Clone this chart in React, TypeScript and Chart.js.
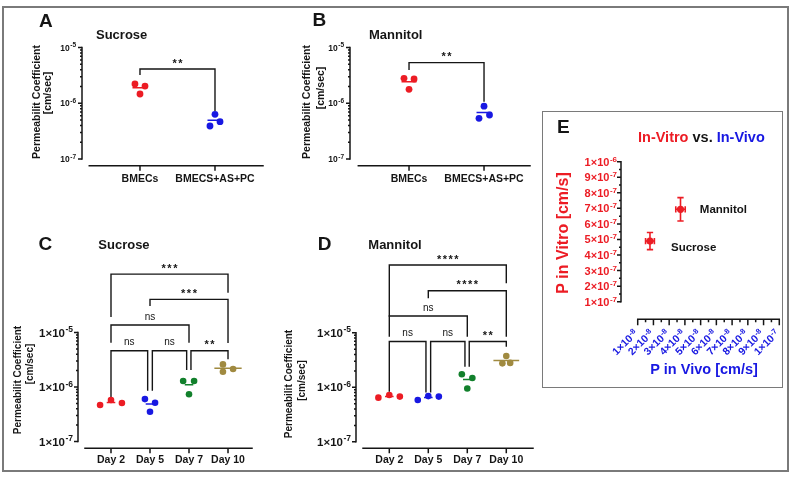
import { useEffect, useRef } from "react";
import { Chart, registerables } from "chart.js";

Chart.register(...registerables);

const FONT = 'Arial, "Liberation Sans", Helvetica, sans-serif';
const W = 793;
const H = 481;

// ---------------- Panels A & B ----------------
const abCategories = ["BMECs", "BMECS+AS+PC"];
const sucroseBMECs = [2.22e-6, 2.04e-6, 1.47e-6];
const sucroseBMECsASPC = [6.36e-7, 3.92e-7, 4.68e-7];
const mannitolBMECs = [2.8e-6, 2.73e-6, 1.78e-6];
const mannitolBMECsASPC = [8.9e-7, 5.38e-7, 6.17e-7];
const sucroseABJitter = [[-0.067, 0.067, 0], [0, -0.067, 0.067]];
const mannitolABJitter = [[-0.067, 0.067, 0], [0, -0.067, 0.073]];
const abTickValues = [1e-7, 1e-6, 1e-5];
const abTickLabels = ["10⁻⁷", "10⁻⁶", "10⁻⁵"];
const sucroseABBrackets = [{ from: 0, to: 1, top: 4.12e-6, leftEnd: 3.21e-6, rightEnd: 7.3e-7, label: "**" }];
const mannitolABBrackets = [{ from: 0, to: 1, top: 5.35e-6, leftEnd: 3.96e-6, rightEnd: 1.07e-6, label: "**" }];

// ---------------- Panels C & D ----------------
const dayCategories = ["Day 2", "Day 5", "Day 7", "Day 10"];
const sucroseDay2 = [4.68e-7, 5.77e-7, 5.1e-7];
const sucroseDay5 = [6.0e-7, 5.15e-7, 3.52e-7];
const sucroseDay7 = [1.29e-6, 1.29e-6, 7.34e-7];
const sucroseDay10 = [2.6e-6, 2.14e-6, 1.91e-6];
const mannitolDay2 = [6.45e-7, 7.2e-7, 6.75e-7];
const mannitolDay5 = [5.85e-7, 6.9e-7, 6.75e-7];
const mannitolDay7 = [1.74e-6, 1.48e-6, 9.5e-7];
const mannitolDay10 = [3.75e-6, 2.75e-6, 2.8e-6];
const sucroseDayJitter = [[-0.28, 0, 0.28], [-0.13, 0.13, 0], [-0.15, 0.13, 0], [-0.13, 0.13, -0.13]];
const mannitolDayJitter = [[-0.28, 0, 0.27], [-0.27, 0, 0.27], [-0.14, 0.13, 0], [0, -0.1, 0.1]];
const cdTickValues = [1e-7, 1e-6, 1e-5];
const cdTickLabels = ["1×10⁻⁷", "1×10⁻⁶", "1×10⁻⁵"];
const sucroseDayBrackets = [
  { from: 0, to: 0.94, top: 4.64e-6, leftEnd: 6.3e-7, rightEnd: 8.5e-7, label: "ns" },
  { from: 1.06, to: 1.94, top: 4.64e-6, leftEnd: 8.5e-7, rightEnd: 2.05e-6, label: "ns" },
  { from: 2.05, to: 3, top: 4.64e-6, leftEnd: 2.05e-6, rightEnd: 3.22e-6, label: "**" },
  { from: 0, to: 2, top: 1.37e-5, leftEnd: 6.5e-6, rightEnd: 6.5e-6, label: "ns" },
  { from: 1, to: 3, top: 4.06e-5, leftEnd: 3.06e-5, rightEnd: 6.4e-6, label: "***" },
  { from: 0, to: 3, top: 1.18e-4, leftEnd: 1.92e-5, rightEnd: 5.37e-5, label: "***" },
];
const mannitolDayBrackets = [
  { from: 0, to: 0.94, top: 6.9e-6, leftEnd: 8.3e-7, rightEnd: 8.0e-7, label: "ns" },
  { from: 1.06, to: 1.94, top: 6.9e-6, leftEnd: 8.0e-7, rightEnd: 2.39e-6, label: "ns" },
  { from: 2.05, to: 3, top: 6.9e-6, leftEnd: 2.39e-6, rightEnd: 5.56e-6, label: "**" },
  { from: 0, to: 2, top: 2.03e-5, leftEnd: 8.5e-6, rightEnd: 8.5e-6, label: "ns" },
  { from: 1, to: 3, top: 5.9e-5, leftEnd: 4.3e-5, rightEnd: 8.5e-6, label: "****" },
  { from: 0, to: 3, top: 1.75e-4, leftEnd: 1.97e-5, rightEnd: 8.1e-5, label: "****" },
];

// ---------------- Panel E ----------------
const eCompounds = ["Sucrose", "Mannitol"];
const pInVivo = [1.78e-8, 3.72e-8];
const pInVivoErr = [0.28e-8, 0.3e-8];
const pInVitro = [4.9e-7, 6.94e-7];
const pInVitroErr = [0.55e-7, 0.75e-7];
const eYTickValues = [1e-7, 2e-7, 3e-7, 4e-7, 5e-7, 6e-7, 7e-7, 8e-7, 9e-7, 1e-6];
const eYTickLabels = ["1×10⁻⁷", "2×10⁻⁷", "3×10⁻⁷", "4×10⁻⁷", "5×10⁻⁷", "6×10⁻⁷", "7×10⁻⁷", "8×10⁻⁷", "9×10⁻⁷", "1×10⁻⁶"];
const eXTickValues = [1e-8, 2e-8, 3e-8, 4e-8, 5e-8, 6e-8, 7e-8, 8e-8, 9e-8, 1e-7];
const eXTickLabels = ["1×10⁻⁸", "2×10⁻⁸", "3×10⁻⁸", "4×10⁻⁸", "5×10⁻⁸", "6×10⁻⁸", "7×10⁻⁸", "8×10⁻⁸", "9×10⁻⁸", "1×10⁻⁷"];

// ---------------- colours ----------------
const RED = "rgb(236,28,36)";
const BLUE = "rgb(24,24,226)";
const GREEN = "rgb(18,128,44)";
const OLIVE = "rgb(160,138,64)";
const INK = "#151515";

type Bracket = { from: number; to: number; top: number; leftEnd: number; rightEnd: number; label: string };
type TextItem = {
  text?: string;
  parts?: { text: string; color: string }[];
  x: number;
  y: number;
  size: number;
  weight?: string;
  color?: string;
  align?: CanvasTextAlign;
  rotate?: number;
};

const SUP: Record<string, string> = {
  "⁻": "-", "⁰": "0", "¹": "1", "²": "2", "³": "3", "⁴": "4",
  "⁵": "5", "⁶": "6", "⁷": "7", "⁸": "8", "⁹": "9",
};
function splitSup(s: string): [string, string] {
  let i = 0;
  while (i < s.length && !(s[i] in SUP)) i++;
  return [s.slice(0, i), s.slice(i).split("").map((c) => SUP[c] || c).join("")];
}

function mean(a: number[]) {
  return a.reduce((s, v) => s + v, 0) / a.length;
}
function logMinors(majors: number[]) {
  const out: number[] = [];
  for (let i = 0; i < majors.length - 1; i++) for (let k = 2; k <= 9; k++) out.push(majors[i] * k);
  return out;
}
function midMinors(majors: number[]) {
  const out: number[] = [];
  for (let i = 0; i < majors.length - 1; i++) out.push((majors[i] + majors[i + 1]) / 2);
  return out;
}

function drawText(ctx: CanvasRenderingContext2D, t: TextItem) {
  ctx.save();
  ctx.translate(t.x, t.y);
  if (t.rotate) ctx.rotate(t.rotate);
  ctx.font = `${t.weight || "bold"} ${t.size}px ${FONT}`;
  ctx.textBaseline = "middle";
  if (t.parts) {
    ctx.textAlign = "left";
    let x = 0;
    for (const p of t.parts) {
      ctx.fillStyle = p.color;
      ctx.fillText(p.text, x, 0);
      x += ctx.measureText(p.text).width;
    }
  } else {
    ctx.textAlign = t.align || "center";
    ctx.fillStyle = t.color || INK;
    ctx.fillText(t.text || "", 0, 0);
  }
  ctx.restore();
}

// Draws "base" + raised exponent, right-aligned at (0,0) with the base vertically centred.
function drawSupLabel(ctx: CanvasRenderingContext2D, label: string, base: number, exp: number, raise: number, color: string) {
  const [b, e] = splitSup(label);
  ctx.fillStyle = color;
  ctx.textAlign = "left";
  ctx.textBaseline = "alphabetic";
  ctx.font = `bold ${exp}px ${FONT}`;
  const we = ctx.measureText(e).width;
  ctx.font = `bold ${base}px ${FONT}`;
  const wb = ctx.measureText(b).width;
  const baseY = base * 0.36;
  ctx.fillText(b, -we - wb - 0.5, baseY);
  ctx.font = `bold ${exp}px ${FONT}`;
  ctx.fillText(e, -we, baseY - raise);
}

const decoPlugin = {
  id: "deco",
  afterDraw(chart: any, _args: any, o: any) {
    const ctx: CanvasRenderingContext2D = chart.ctx;
    const area = chart.chartArea;
    const xs = chart.scales.x;
    const ys = chart.scales.y;
    ctx.save();
    ctx.strokeStyle = INK;
    ctx.lineWidth = 1.5;
    // y axis
    const ya = o.yAxis;
    const x0 = area.left;
    ctx.lineCap = "square";
    ctx.beginPath();
    ctx.moveTo(x0, ys.getPixelForValue(ya.from));
    ctx.lineTo(x0, ys.getPixelForValue(ya.to));
    ctx.stroke();
    ctx.lineCap = "butt";
    ctx.beginPath();
    for (const v of ya.majors) {
      const p = ys.getPixelForValue(v);
      ctx.moveTo(x0, p);
      ctx.lineTo(x0 - ya.majorLen, p);
    }
    for (const v of ya.minors) {
      const p = ys.getPixelForValue(v);
      ctx.moveTo(x0, p);
      ctx.lineTo(x0 - ya.minorLen, p);
    }
    ctx.stroke();
    // y tick labels with real superscripts
    const yl = ya.labels;
    ya.majors.forEach((v: number, i: number) => {
      ctx.save();
      ctx.translate(x0 - yl.pad, ys.getPixelForValue(v));
      drawSupLabel(ctx, yl.text[i], yl.base, yl.exp, yl.raise, yl.color);
      ctx.restore();
    });
    // x axis
    const xa = o.xAxis;
    const y0 = area.bottom;
    ctx.lineCap = "square";
    ctx.beginPath();
    ctx.moveTo(xs.getPixelForValue(xa.from), y0);
    ctx.lineTo(xs.getPixelForValue(xa.to), y0);
    ctx.stroke();
    ctx.lineCap = "butt";
    ctx.beginPath();
    for (const v of xa.majors) {
      const p = xs.getPixelForValue(v);
      ctx.moveTo(p, y0);
      ctx.lineTo(p, y0 + xa.majorLen);
    }
    for (const v of xa.minors || []) {
      const p = xs.getPixelForValue(v);
      ctx.moveTo(p, y0);
      ctx.lineTo(p, y0 + xa.minorLen);
    }
    ctx.stroke();
    if (xa.labels) {
      const xl = xa.labels;
      xa.majors.forEach((v: number, i: number) => {
        ctx.save();
        ctx.translate(xs.getPixelForValue(v) + xl.dx, y0 + xl.dy);
        ctx.rotate(-Math.PI / 4);
        drawSupLabel(ctx, xl.text[i], xl.base, xl.exp, xl.raise, xl.color);
        ctx.restore();
      });
    }
    // bracket labels
    for (const b of (o.brackets || []) as Bracket[]) {
      const cx = (xs.getPixelForValue(b.from) + xs.getPixelForValue(b.to)) / 2;
      const cy = ys.getPixelForValue(b.top);
      const isStar = b.label.indexOf("*") >= 0;
      ctx.save();
      ctx.fillStyle = INK;
      ctx.textAlign = "center";
      ctx.textBaseline = "middle";
      if (isStar) {
        ctx.font = `bold 11px ${FONT}`;
        (ctx as any).letterSpacing = "1.5px";
        ctx.fillText(b.label, cx + 0.75, cy - 5.5);
      } else {
        ctx.font = `normal 10px ${FONT}`;
        ctx.fillText(b.label, cx, cy - 8);
      }
      ctx.restore();
    }
    // point labels
    for (const pl of o.pointLabels || []) {
      drawText(ctx, {
        text: pl.text,
        x: xs.getPixelForValue(pl.x) + pl.dx,
        y: ys.getPixelForValue(pl.y) + pl.dy,
        size: pl.size,
        align: "left",
      });
    }
    // free texts
    for (const t of o.texts || []) drawText(ctx, t);
    ctx.restore();
  },
};

type LogPanel = {
  categories: string[];
  groups: number[][];
  jitter: number[][];
  colors: string[];
  meanHalf: number[];
  brackets: Bracket[];
  tickValues: number[];
  tickLabels: string[];
  area: { left: number; top: number; right: number; bottom: number };
  yMin: number;
  yMax: number;
  xMin: number;
  xMax: number;
  xAxisFrom: number;
  yLabelStyle: { base: number; exp: number; raise: number; pad: number };
  xTickSize: number;
  xTickPad: number;
  pointRadius: number;
  texts: TextItem[];
};

function makeLogPanel(p: LogPanel) {
  const yWidth = 70;
  const xHeight = 30;
  const datasets: any[] = [];
  p.groups.forEach((vals, gi) =>
    datasets.push({
      data: vals.map((v, k) => ({ x: gi + p.jitter[gi][k], y: v })),
      pointRadius: p.pointRadius,
      pointBackgroundColor: p.colors[gi],
      pointBorderWidth: 0,
      showLine: false,
    })
  );
  p.groups.forEach((vals, gi) => {
    const m = mean(vals);
    datasets.push({
      data: [
        { x: gi - p.meanHalf[gi], y: m },
        { x: gi + p.meanHalf[gi], y: m },
      ],
      showLine: true,
      borderColor: p.colors[gi],
      borderWidth: 1.5,
      pointRadius: 0,
    });
  });
  p.brackets.forEach((b) =>
    datasets.push({
      data: [
        { x: b.from, y: b.leftEnd },
        { x: b.from, y: b.top },
        { x: b.to, y: b.top },
        { x: b.to, y: b.rightEnd },
      ],
      showLine: true,
      borderColor: INK,
      borderWidth: 1.4,
      borderJoinStyle: "miter",
      pointRadius: 0,
    })
  );
  return {
    type: "scatter",
    data: { datasets },
    options: {
      responsive: false,
      animation: false,
      events: [],
      layout: {
        padding: {
          left: p.area.left - yWidth,
          top: p.area.top,
          right: W - p.area.right,
          bottom: H - p.area.bottom - xHeight,
        },
      },
      plugins: {
        legend: { display: false },
        tooltip: { enabled: false },
        deco: {
          yAxis: {
            from: p.tickValues[0],
            to: p.tickValues[p.tickValues.length - 1],
            majors: p.tickValues,
            minors: logMinors(p.tickValues),
            majorLen: 4,
            minorLen: 2,
            labels: { text: p.tickLabels, color: INK, ...p.yLabelStyle },
          },
          xAxis: {
            from: p.xAxisFrom,
            to: p.xMax,
            majors: p.categories.map((_, i) => i),
            majorLen: 5,
          },
          brackets: p.brackets,
          texts: p.texts,
        },
      },
      scales: {
        x: {
          type: "linear",
          min: p.xMin,
          max: p.xMax,
          afterBuildTicks: (s: any) => {
            s.ticks = p.categories.map((_, i) => ({ value: i }));
          },
          afterFit: (s: any) => {
            s.height = xHeight;
          },
          grid: { display: false, drawTicks: false },
          border: { display: false },
          ticks: {
            autoSkip: false,
            maxRotation: 0,
            minRotation: 0,
            padding: p.xTickPad,
            color: INK,
            font: { family: FONT, size: p.xTickSize, weight: "bold" },
            callback: (_v: any, i: number) => p.categories[i],
          },
        },
        y: {
          type: "logarithmic",
          min: p.yMin,
          max: p.yMax,
          afterBuildTicks: (s: any) => {
            s.ticks = p.tickValues.map((v) => ({ value: v }));
          },
          afterFit: (s: any) => {
            s.width = yWidth;
          },
          grid: { display: false, drawTicks: false },
          border: { display: false },
          ticks: { display: false },
        },
      },
    },
    plugins: [decoPlugin],
  };
}

function seg(a: [number, number], b: [number, number]) {
  return {
    data: [
      { x: a[0], y: a[1] },
      { x: b[0], y: b[1] },
    ],
    showLine: true,
    borderColor: RED,
    borderWidth: 1.6,
    pointRadius: 0,
  };
}

function makeEPanel() {
  const area = { left: 621, top: 150, right: 780, bottom: 319.3 };
  const yWidth = 60;
  const xHeight = 45;
  const capX = 0.2e-8;
  const capY = 0.2e-7;
  const datasets: any[] = [
    {
      data: pInVivo.map((x, i) => ({ x, y: pInVitro[i] })),
      pointRadius: 3.6,
      pointBackgroundColor: RED,
      pointBorderWidth: 0,
      showLine: false,
    },
  ];
  pInVivo.forEach((x, i) => {
    const y = pInVitro[i];
    const ey = pInVitroErr[i];
    const ex = pInVivoErr[i];
    datasets.push(seg([x, y - ey], [x, y + ey]));
    datasets.push(seg([x - capX, y + ey], [x + capX, y + ey]));
    datasets.push(seg([x - capX, y - ey], [x + capX, y - ey]));
    datasets.push(seg([x - ex, y], [x + ex, y]));
    datasets.push(seg([x - ex, y - capY], [x - ex, y + capY]));
    datasets.push(seg([x + ex, y - capY], [x + ex, y + capY]));
  });
  const labelOffsets = [
    { dx: 21, dy: 6.3 },
    { dx: 19.3, dy: 1 },
  ];
  return {
    type: "scatter",
    data: { datasets },
    options: {
      responsive: false,
      animation: false,
      events: [],
      layout: {
        padding: {
          left: area.left - yWidth,
          top: area.top,
          right: W - area.right,
          bottom: H - area.bottom - xHeight,
        },
      },
      plugins: {
        legend: { display: false },
        tooltip: { enabled: false },
        deco: {
          yAxis: {
            from: eYTickValues[0],
            to: eYTickValues[eYTickValues.length - 1],
            majors: eYTickValues,
            minors: midMinors(eYTickValues),
            majorLen: 4,
            minorLen: 2,
            labels: { text: eYTickLabels, color: RED, base: 11, exp: 8, raise: 4, pad: 4 },
          },
          xAxis: {
            from: eXTickValues[0],
            to: eXTickValues[eXTickValues.length - 1],
            majors: eXTickValues,
            minors: midMinors(eXTickValues),
            majorLen: 6,
            minorLen: 3,
            labels: { text: eXTickLabels, color: BLUE, base: 10.5, exp: 7.5, raise: 3.5, dx: -2, dy: 12 },
          },
          pointLabels: eCompounds.map((name, i) => ({
            text: name,
            x: pInVivo[i],
            y: pInVitro[i],
            dx: labelOffsets[i].dx,
            dy: labelOffsets[i].dy,
            size: 11.5,
          })),
          texts: [
            { text: "E", x: 563.3, y: 127.5, size: 19 },
            {
              parts: [
                { text: "In-Vitro", color: RED },
                { text: " vs. ", color: INK },
                { text: "In-Vivo", color: BLUE },
              ],
              x: 638,
              y: 138.3,
              size: 14.5,
            },
            { text: "P in Vitro [cm/s]", x: 563.3, y: 233, size: 16, color: RED, rotate: -Math.PI / 2 },
            { text: "P in Vivo [cm/s]", x: 704, y: 370, size: 14.5, color: BLUE },
          ],
        },
      },
      scales: {
        x: {
          type: "linear",
          min: -6.2e-10,
          max: 1.0045e-7,
          afterBuildTicks: (s: any) => {
            s.ticks = eXTickValues.map((v) => ({ value: v }));
          },
          afterFit: (s: any) => {
            s.height = xHeight;
          },
          grid: { display: false, drawTicks: false },
          border: { display: false },
          ticks: { display: false },
        },
        y: {
          type: "linear",
          min: -1.314e-8,
          max: 1.0752e-6,
          afterBuildTicks: (s: any) => {
            s.ticks = eYTickValues.map((v) => ({ value: v }));
          },
          afterFit: (s: any) => {
            s.width = yWidth;
          },
          grid: { display: false, drawTicks: false },
          border: { display: false },
          ticks: { display: false },
        },
      },
    },
    plugins: [decoPlugin],
  };
}

const abLabelStyle = { base: 8.5, exp: 6.5, raise: 3.5, pad: 6 };
const cdLabelStyle = { base: 11.5, exp: 8.5, raise: 4.5, pad: 5 };

const makers: (() => any)[] = [
  () =>
    makeLogPanel({
      categories: abCategories,
      groups: [sucroseBMECs, sucroseBMECsASPC],
      jitter: sucroseABJitter,
      colors: [RED, BLUE],
      meanHalf: [0.1, 0.1],
      brackets: sucroseABBrackets,
      tickValues: abTickValues,
      tickLabels: abTickLabels,
      area: { left: 82, top: 30, right: 263, bottom: 165.7 },
      yMin: 7.62e-8,
      yMax: 2.06e-5,
      xMin: -0.773,
      xMax: 1.64,
      xAxisFrom: -0.676,
      yLabelStyle: abLabelStyle,
      xTickSize: 10.5,
      xTickPad: 7,
      pointRadius: 3.4,
      texts: [
        { text: "A", x: 45.8, y: 21.5, size: 19 },
        { text: "Sucrose", x: 96, y: 35, size: 13, align: "left" },
        { text: "Permeabilit Coefficient", x: 37, y: 102, size: 10.5, rotate: -Math.PI / 2 },
        { text: "[cm/sec]", x: 48.3, y: 93, size: 10.5, rotate: -Math.PI / 2 },
      ],
    }),
  () =>
    makeLogPanel({
      categories: abCategories,
      groups: [mannitolBMECs, mannitolBMECsASPC],
      jitter: mannitolABJitter,
      colors: [RED, BLUE],
      meanHalf: [0.1, 0.1],
      brackets: mannitolABBrackets,
      tickValues: abTickValues,
      tickLabels: abTickLabels,
      area: { left: 350, top: 30, right: 530, bottom: 165.7 },
      yMin: 7.62e-8,
      yMax: 2.06e-5,
      xMin: -0.787,
      xMax: 1.613,
      xAxisFrom: -0.676,
      yLabelStyle: abLabelStyle,
      xTickSize: 10.5,
      xTickPad: 7,
      pointRadius: 3.4,
      texts: [
        { text: "B", x: 319.3, y: 20.7, size: 19 },
        { text: "Mannitol", x: 369, y: 35, size: 13, align: "left" },
        { text: "Permeabilit Coefficient", x: 307.3, y: 102, size: 10.5, rotate: -Math.PI / 2 },
        { text: "[cm/sec]", x: 320.7, y: 88, size: 10.5, rotate: -Math.PI / 2 },
      ],
    }),
  () =>
    makeLogPanel({
      categories: dayCategories,
      groups: [sucroseDay2, sucroseDay5, sucroseDay7, sucroseDay10],
      jitter: sucroseDayJitter,
      colors: [RED, BLUE, GREEN, OLIVE],
      meanHalf: [0.11, 0.11, 0.11, 0.35],
      brackets: sucroseDayBrackets,
      tickValues: cdTickValues,
      tickLabels: cdTickLabels,
      area: { left: 78, top: 250, right: 252, bottom: 448.3 },
      yMin: 7.5e-8,
      yMax: 3.27e-4,
      xMin: -0.846,
      xMax: 3.615,
      xAxisFrom: -0.667,
      yLabelStyle: cdLabelStyle,
      xTickSize: 10.5,
      xTickPad: 6,
      pointRadius: 3.3,
      texts: [
        { text: "C", x: 45.3, y: 245, size: 19 },
        { text: "Sucrose", x: 98.3, y: 245, size: 13, align: "left" },
        { text: "Permeabilit Coefficient", x: 18.3, y: 380, size: 10, rotate: -Math.PI / 2 },
        { text: "[cm/sec]", x: 30, y: 364, size: 10, rotate: -Math.PI / 2 },
      ],
    }),
  () =>
    makeLogPanel({
      categories: dayCategories,
      groups: [mannitolDay2, mannitolDay5, mannitolDay7, mannitolDay10],
      jitter: mannitolDayJitter,
      colors: [RED, BLUE, GREEN, OLIVE],
      meanHalf: [0.11, 0.11, 0.11, 0.33],
      brackets: mannitolDayBrackets,
      tickValues: cdTickValues,
      tickLabels: cdTickLabels,
      area: { left: 356, top: 250, right: 533, bottom: 448.3 },
      yMin: 7.6e-8,
      yMax: 3.3e-4,
      xMin: -0.854,
      xMax: 3.685,
      xAxisFrom: -0.674,
      yLabelStyle: cdLabelStyle,
      xTickSize: 10.5,
      xTickPad: 6,
      pointRadius: 3.3,
      texts: [
        { text: "D", x: 324.5, y: 245, size: 19 },
        { text: "Mannitol", x: 368.3, y: 245, size: 13, align: "left" },
        { text: "Permeabilit Coefficient", x: 289.3, y: 384, size: 10, rotate: -Math.PI / 2 },
        { text: "[cm/sec]", x: 302.7, y: 380.5, size: 10, rotate: -Math.PI / 2 },
      ],
    }),
  () => makeEPanel(),
];

function ChartCanvas({ make }: { make: () => any }) {
  const ref = useRef<HTMLCanvasElement>(null);
  useEffect(() => {
    if (!ref.current) return;
    const chart = new Chart(ref.current, make());
    return () => chart.destroy();
  }, [make]);
  return (
    <canvas
      ref={ref}
      width={W}
      height={H}
      style={{ position: "absolute", left: 0, top: 0, width: W, height: H }}
    />
  );
}

export default function App() {
  return (
    <div style={{ position: "absolute", left: 0, top: 0, width: W, height: H, background: "#fff", overflow: "hidden" }}>
      <div
        style={{
          position: "absolute",
          left: 2,
          top: 6,
          width: 787,
          height: 466,
          boxSizing: "border-box",
          border: "2px solid #7a7a7a",
        }}
      />
      <div
        style={{
          position: "absolute",
          left: 542,
          top: 111,
          width: 241,
          height: 277,
          boxSizing: "border-box",
          border: "1.5px solid #7a7a7a",
        }}
      />
      {makers.map((m, i) => (
        <ChartCanvas key={i} make={m} />
      ))}
    </div>
  );
}
